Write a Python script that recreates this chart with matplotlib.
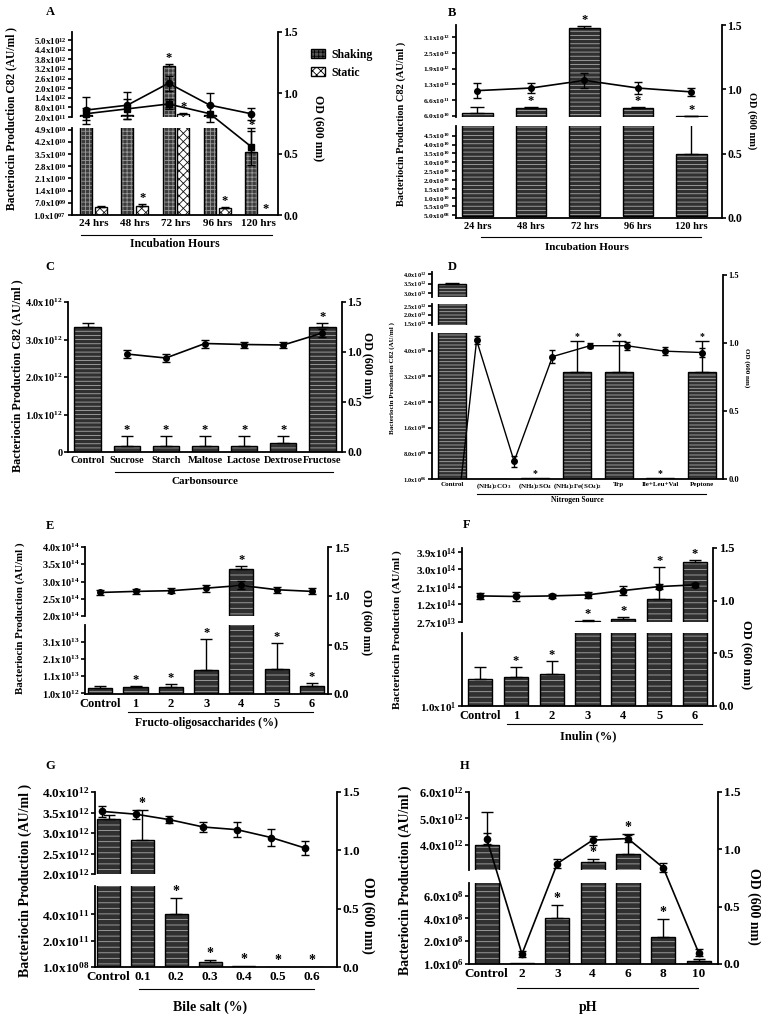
import numpy as np
import matplotlib
matplotlib.use('Agg')
import matplotlib.pyplot as plt
from matplotlib import transforms
from matplotlib.patches import Patch

W, H = 767, 1028
plt.rcParams['font.family'] = 'Liberation Serif'
plt.rcParams['font.weight'] = 'bold'
plt.rcParams['mathtext.fontset'] = 'custom'
plt.rcParams['mathtext.rm'] = 'Liberation Serif:bold'
plt.rcParams['mathtext.it'] = 'Liberation Serif:bold'
plt.rcParams['mathtext.bf'] = 'Liberation Serif:bold'
plt.rcParams['mathtext.default'] = 'rm'
plt.rcParams['hatch.linewidth'] = 0.6

# ---------------- data ----------------
# A  incubation, shaking vs static
a_cats = ['24 hrs', '48 hrs', '72 hrs', '96 hrs', '120 hrs']
a_shaking = [3.0e11, 3.2e11, 3.4e12, 3.0e11, 3.6e10]
a_shaking_err = [0, 0, 0.08e12, 0, 1.2e10]
a_shaking_star = [False, False, True, False, True]
a_static = [4.5e9, 5.0e9, 4.0e11, 4.0e9, 1.0e8]
a_static_err = [0.5e9, 1.5e9, 0.8e11, 0.8e9, 0]
a_static_star = [False, True, True, True, True]
a_od_shaking = [0.86, 0.90, 1.08, 0.90, 0.83]
a_od_shaking_err = [0.11, 0.11, 0.06, 0.10, 0.05]
a_od_static = [0.83, 0.87, 0.91, 0.83, 0.56]
a_od_static_err = [0.05, 0.08, 0.04, 0.07, 0.15]

# B  incubation
b_cats = ['24 hrs', '48 hrs', '72 hrs', '96 hrs', '120 hrs']
b_vals = [1.7e11, 3.6e11, 3.39e12, 3.6e11, 3.45e10]
b_err = [2.3e11, 0.3e11, 0.09e12, 0.3e11, 2.6e10]
b_star = [False, True, True, True, True]
b_od = [0.99, 1.01, 1.07, 1.01, 0.98]
b_od_err = [0.06, 0.04, 0.06, 0.05, 0.03]

# C  carbon source
c_cats = ['Control', 'Sucrose', 'Starch', 'Maltose', 'Lactose', 'Dextrose', 'Fructose']
c_vals = [3.33e12, 1.6e11, 1.6e11, 1.6e11, 1.6e11, 2.3e11, 3.33e12]
c_err = [0.1e12, 2.6e11, 2.6e11, 2.6e11, 2.6e11, 1.9e11, 0.1e12]
c_star = [False, True, True, True, True, True, True]
c_od = [np.nan, 0.98, 0.94, 1.085, 1.075, 1.07, 1.19]
c_od_err = [0, 0.04, 0.04, 0.04, 0.03, 0.03, 0.04]

# D  nitrogen source
d_cats = ['Control', r'(NH$_4$)$_2$CO$_3$', r'(NH$_4$)$_2$SO$_4$',
          r'(NH$_4$)$_2$Fe(SO$_4$)$_2$', 'Trp', 'Ile+Leu+Val', 'Peptone']
d_vals = [3.45e12, 0, 2e8, 3.35e10, 3.35e10, 2e8, 3.35e10]
d_err = [0.08e12, 0, 0, 0.95e10, 0.95e10, 0, 0.95e10]
d_star = [False, False, True, True, True, True, True]
d_od_x = [0.22, 0.59, 1.49, 2.41, 3.31, 4.19, 5.10, 6.00]
d_od = [0.0, 1.02, 0.13, 0.90, 0.98, 0.98, 0.94, 0.93]
d_od_err = [0, 0.03, 0.04, 0.05, 0.02, 0.03, 0.03, 0.03]

# E  FOS
e_cats = ['Control', '1', '2', '3', '4', '5', '6']
e_vals = [3.9e12, 4.5e12, 4.9e12, 1.43e13, 3.37e14, 1.53e13, 5.5e12]
e_err = [1.4e12, 1.0e12, 1.6e12, 1.8e13, 0.09e14, 1.5e13, 1.4e12]
e_star = [False, True, True, True, True, True, True]
e_od = [1.036, 1.047, 1.054, 1.08, 1.108, 1.064, 1.047]
e_od_err = [0.03, 0.025, 0.025, 0.035, 0.04, 0.03, 0.03]

# F  inulin
f_cats = ['Control', '1', '2', '3', '4', '5', '6']
f_vals = [1.0e13, 1.08e13, 1.17e13, 3.0e13, 4.2e13, 1.44e14, 3.35e14]
f_err = [0.43e13, 0.35e13, 0.48e13, 0.9e13, 1.1e13, 1.66e14, 0.12e14]
f_star = [False, True, True, True, True, True, True]
f_od = [1.045, 1.04, 1.045, 1.055, 1.096, 1.134, 1.15]
f_od_err = [0.03, 0.04, 0.02, 0.03, 0.04, 0.02, 0.02]

# G  bile salt
g_cats = ['Control', '0.1', '0.2', '0.3', '0.4', '0.5', '0.6']
g_vals = [3.33e12, 2.84e12, 4.05e11, 3.8e10, 8e9, 0, 0]
g_err = [0.1e12, 0.73e12, 1.2e11, 1.2e10, 0, 0, 0]
g_star = [False, True, True, True, True, True, True]
g_od = [1.334, 1.31, 1.263, 1.2, 1.177, 1.11, 1.02]
g_od_err = [0.05, 0.04, 0.03, 0.04, 0.065, 0.075, 0.06]

# H  pH
h_cats = ['Control', '2', '3', '4', '6', '8', '10']
h_vals = [4.0e12, 1.0e7, 4.05e8, 3.34e12, 3.66e12, 2.35e8, 3.0e7]
h_err = [1.25e12, 0, 1.15e8, 0.12e12, 0.75e12, 1.6e8, 1.5e7]
h_star = [False, False, True, True, True, True, False]
h_od = [1.094, 0.087, 0.876, 1.08, 1.094, 0.84, 0.10]
h_od_err = [0.05, 0.03, 0.04, 0.04, 0.03, 0.04, 0.03]

fig = plt.figure(figsize=(W / 100, H / 100), dpi=100)


def sci(v, pad):
    if v == 0:
        return '0'
    e = int(np.floor(np.log10(abs(v)) + 1e-9))
    m = v / 10 ** e
    es = ('%02d' if pad else '%d') % e
    return r'%.1fx10$^{%s}$' % (m, es)


def px_axes(x0, y0, x1, y1):
    return fig.add_axes([x0 / W, 1 - y1 / H, (x1 - x0) / W, (y1 - y0) / H])


def build(x0, x1, od_px, segs_def, xlim, pad, fs_y, fs_od):
    # segs_def: bottom -> top list of ((top_px, bottom_px), ylim, ticks)
    segs = []
    for (t, b), lims, ticks in segs_def:
        ax = px_axes(x0, t, x1, b)
        ax.set_xlim(*xlim)
        ax.set_ylim(*lims)
        ax.patch.set_visible(False)
        for s in ['top', 'right', 'bottom']:
            ax.spines[s].set_visible(False)
        ax.spines['left'].set_linewidth(1.3)
        ax.set_yticks(ticks)
        ax.set_yticklabels([sci(v, pad) for v in ticks], fontsize=fs_y)
        ax.tick_params(axis='y', length=3, width=1.2, pad=1)
        ax.tick_params(axis='x', length=0, labelbottom=False)
        segs.append(ax)
    segs[0].spines['bottom'].set_visible(True)
    segs[0].spines['bottom'].set_linewidth(1.3)
    od = px_axes(x0, od_px[0], x1, od_px[1])
    od.set_xlim(*xlim)
    od.set_ylim(0, 1.5)
    od.patch.set_visible(False)
    for s in ['top', 'left', 'bottom']:
        od.spines[s].set_visible(False)
    od.spines['right'].set_linewidth(1.3)
    od.yaxis.tick_right()
    od.set_yticks([0, 0.5, 1.0, 1.5])
    od.set_yticklabels(['0.0', '0.5', '1.0', '1.5'], fontsize=fs_od)
    od.tick_params(axis='y', length=3, width=1.2, pad=1)
    od.set_xticks([])
    return segs, od


def bars(segs, xs, vals, errs, stars, width, face='#303030', hatch='---',
         hcol='#a8a8a8', fs_star=9, cap=4):
    xs = np.asarray(xs, float)
    vals = np.asarray(vals, float)
    errs = np.asarray(errs, float)
    m = errs > 0
    for ax in segs:
        ax.bar(xs, vals, width, color=face, hatch=hatch, edgecolor=hcol,
               linewidth=0, zorder=2)
        ax.bar(xs, vals, width, fill=False, edgecolor='black', linewidth=1.0, zorder=3)
        if m.any():
            ax.errorbar(xs[m], vals[m], yerr=[np.zeros(m.sum()), errs[m]], fmt='none',
                        ecolor='black', elinewidth=1, capsize=cap, capthick=1, zorder=4)
    for x, v, e, s in zip(xs, vals, errs, stars):
        if not s:
            continue
        top = v + e
        pick = segs[0]
        for ax in segs:
            if ax.get_ylim()[0] <= top:
                pick = ax
        pick.annotate('*', (x, top), xytext=(0, 0), textcoords='offset points',
                      ha='center', va='bottom', fontsize=fs_star, annotation_clip=False)


def od_line(od, xs, ys, es, marker='o', ms=4.5, cap=3):
    od.errorbar(xs, ys, yerr=es, fmt='-', marker=marker, color='black', ms=ms,
                lw=1.2, elinewidth=1, capsize=cap, capthick=1, zorder=5)


def xaxis(segs, cats, fs, under, under_y, title, tx, ty, fs_title, pad=3):
    low = segs[0]
    low.set_xticks(range(len(cats)))
    low.set_xticklabels(cats, fontsize=fs)
    low.tick_params(axis='x', labelbottom=True, length=0, pad=pad)
    tr = transforms.blended_transform_factory(low.transData, fig.transFigure)
    low.plot(under, [1 - under_y / H] * 2, transform=tr, color='black', lw=0.8,
             clip_on=False)
    fig.text(tx / W, 1 - ty / H, title, ha='center', va='center', fontsize=fs_title)


def labels(letter, lx, ly, ylab, yx, yy, fs_ylab, odx, ody, fs_od, fs_letter=9):
    fig.text(lx / W, 1 - ly / H, letter, ha='center', va='center', fontsize=fs_letter)
    fig.text(yx / W, 1 - yy / H, ylab, ha='center', va='center', rotation=90,
             fontsize=fs_ylab)
    fig.text(odx / W, 1 - ody / H, 'OD (600 nm)', ha='center', va='center',
             rotation=270, fontsize=fs_od)


# ---------------- panel A ----------------
segs, od = build(72, 278, (32, 215),
                 [((128, 215), (1e7, 5.0e10), [1e7, 7e9, 1.4e10, 2.1e10, 2.8e10, 3.5e10, 4.2e10, 4.9e10]),
                  ((32, 117), (2.0e11, 5.5e12), [2e11, 8e11, 1.4e12, 2.0e12, 2.6e12, 3.2e12, 3.8e12, 4.4e12, 5.0e12])],
                 (-0.52, 4.47), True, 6.5, 8.5)
xa = np.arange(len(a_cats))
bars(segs, xa - 0.18, a_shaking, a_shaking_err, a_shaking_star, 0.29,
     face='#3c3c3c', hatch='++++', hcol='#9a9a9a', cap=3)
bars(segs, xa + 0.18, a_static, a_static_err, a_static_star, 0.29,
     face='white', hatch='xxxx', hcol='#111111', cap=3)
od_line(od, xa - 0.18, a_od_shaking, a_od_shaking_err, marker='o')
od_line(od, xa - 0.18, a_od_static, a_od_static_err, marker='s')
xaxis(segs, a_cats, 8, [-0.3, 4.33], 235, 'Incubation Hours', 175, 244, 8.5)
labels('A', 50, 12, 'Bacteriocin Production C82 (AU/ml )', 11, 118, 8.3, 318, 128, 8.5)
fig.legend(handles=[Patch(facecolor='#555555', hatch='++++', edgecolor='black'),
                    Patch(facecolor='white', hatch='xxxx', edgecolor='black')],
           labels=['Shaking', 'Static'], loc='upper left',
           bbox_to_anchor=(300 / W, 1 - 38 / H), frameon=False, fontsize=8.5,
           handlelength=1.2, handleheight=0.9, labelspacing=0.5, handletextpad=0.6)

# ---------------- panel B ----------------
segs, od = build(456, 722, (25, 218),
                 [((126, 218), (-1.2e9, 5.04e10), [5e8, 5.5e9, 1.0e10, 1.5e10, 2.0e10, 2.5e10, 3.0e10, 3.5e10, 4.0e10, 4.5e10]),
                  ((25, 117), (1e10, 3.52e12), [6.0e10, 6.6e11, 1.26e12, 1.86e12, 2.46e12, 3.06e12])],
                 (-0.4, 4.57), True, 5.3, 8.5)
xb = np.arange(len(b_cats))
bars(segs, xb, b_vals, b_err, b_star, 0.57, hatch='----', cap=5)
od_line(od, xb, b_od, b_od_err, marker='o', ms=4)
xaxis(segs, b_cats, 7.5, [0.06, 4.17], 237, 'Incubation Hours', 587, 247, 8)
labels('B', 452, 13, 'Bacteriocin Production C82 (AU/ml )', 401, 124, 7.5, 752, 121, 7.5)

# ---------------- panel C ----------------
segs, od = build(68, 342, (302, 452),
                 [((302, 452), (0, 4e12), [0, 1e12, 2e12, 3e12, 4e12])],
                 (-0.5, 6.5), False, 7.5, 8.5)
xc = np.arange(len(c_cats))
bars(segs, xc, c_vals, c_err, c_star, 0.67, hatch='----')
od_line(od, xc, c_od, c_od_err, marker='o', ms=4)
xaxis(segs, c_cats, 7.5, [0.69, 6.28], 472, 'Carbonsource', 205, 482, 8)
labels('C', 50, 267, 'Bacteriocin Production C82 (AU/ml )', 17, 376, 8.7, 367, 365, 8.5)

# ---------------- panel D ----------------
segs, od = build(432, 723, (275, 479),
                 [((333, 479), (1e6, 4.55e10), [1e6, 8e9, 1.6e10, 2.4e10, 3.2e10, 4.0e10]),
                  ((304, 325), (1.38e12, 2.62e12), [1.5e12, 2.0e12, 2.5e12]),
                  ((272, 297), (2.8e12, 4.1e12), [3.0e12, 3.5e12, 4.0e12])],
                 (-0.48, 6.5), True, 4.5, 6)
xd = np.arange(len(d_cats))
bars(segs, xd, d_vals, d_err, d_star, 0.67, hatch='-----', fs_star=7, cap=5)
od.plot(d_od_x, d_od, color='black', lw=1.0, zorder=5)
od.errorbar(d_od_x[1:], d_od[1:], yerr=d_od_err[1:], fmt='o', color='black', ms=4,
            elinewidth=1, capsize=2.5, zorder=5)
xaxis(segs, d_cats, 5, [0.6, 6.1], 494, 'Nitrogen Source', 577, 500, 5.5, pad=2)
labels('D', 452, 267, 'Bacteriocin Production C82 (AU/ml )', 392, 378, 5, 747, 368, 5)

# ---------------- panel E ----------------
segs, od = build(85, 328, (547, 694),
                 [((625, 694), (6e11, 4.07e13), [1e12, 1.1e13, 2.1e13, 3.1e13]),
                  ((547, 616), (2e14, 4e14), [2.0e14, 2.5e14, 3.0e14, 3.5e14, 4.0e14])],
                 (-0.43, 6.45), False, 7.5, 9)
xe = np.arange(len(e_cats))
bars(segs, xe, e_vals, e_err, e_star, 0.68, hatch='---')
od_line(od, xe, e_od, e_od_err, marker='o', ms=4)
xaxis(segs, e_cats, 9, [0.8, 6.03], 712, 'Fructo-oligosaccharides (%)', 207, 723, 8.5)
labels('E', 50, 526, 'Bacteriocin Production (AU/ml )', 20, 618, 7.8, 366, 622, 8.5)

# ---------------- panel F ----------------
segs, od = build(462, 713, (548, 706),
                 [((633, 706), (10, 2.7e13), [10]),
                  ((548, 622), (2.7e13, 4.07e14), [2.7e13, 1.17e14, 2.07e14, 2.97e14, 3.87e14])],
                 (-0.5, 6.5), False, 8, 9)
xf = np.arange(len(f_cats))
bars(segs, xf, f_vals, f_err, f_star, 0.67, hatch='---')
od_line(od, xf, f_od, f_od_err, marker='o', ms=4.5)
xaxis(segs, f_cats, 9, [0.75, 6.2], 724, 'Inulin (%)', 588, 736, 9)
labels('F', 467, 525, 'Bacteriocin Production (AU/ml )', 397, 630, 8.2, 746, 655, 9)

# ---------------- panel G ----------------
segs, od = build(95, 337, (792, 967),
                 [((886, 967), (1e8, 6.15e11), [1e8, 2e11, 4e11]),
                  ((792, 874), (2e12, 4e12), [2.0e12, 2.5e12, 3.0e12, 3.5e12, 4.0e12])],
                 (-0.4, 6.75), True, 9.5, 9.5)
xg = np.arange(len(g_cats))
bars(segs, xg, g_vals, g_err, g_star, 0.68, hatch='---', fs_star=10)
od_line(od, xg - 0.2, g_od, g_od_err, marker='o', ms=4.5)
xaxis(segs, g_cats, 9.5, [0.89, 6.07], 989, 'Bile salt (%)', 210, 1007, 10)
labels('G', 50, 766, 'Bacteriocin Production (AU/ml )', 25, 880, 10, 368, 915, 10)

# ---------------- panel H ----------------
segs, od = build(469, 718, (792, 964),
                 [((883, 964), (1e6, 7.1e8), [1e6, 2e8, 4e8, 6e8]),
                  ((792, 870), (3.05e12, 6e12), [4e12, 5e12, 6e12])],
                 (-0.5, 6.55), False, 9, 9.5)
xh = np.arange(len(h_cats))
bars(segs, xh, h_vals, h_err, h_star, 0.68, hatch='---', fs_star=10)
od_line(od, xh, h_od, h_od_err, marker='o', ms=4.5)
xaxis(segs, h_cats, 9.5, [0.85, 5.98], 988, 'pH', 588, 1008, 10)
labels('H', 465, 766, 'Bacteriocin Production (AU/ml )', 405, 880, 9.8, 754, 906, 10)

fig.savefig('out.png', dpi=100)
